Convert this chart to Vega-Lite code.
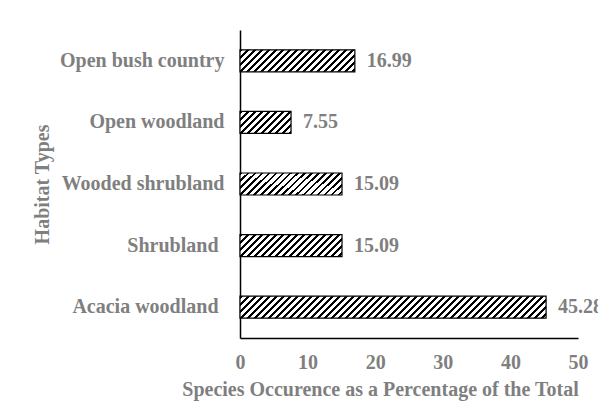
{
  "$schema": "https://vega.github.io/schema/vega-lite/v6.json",
  "width": 338,
  "height": 308,
  "autosize": {"type": "none"},
  "padding": {"left": 240, "top": 30, "right": 20, "bottom": 74},
  "background": "white",
  "config": {"view": {"stroke": null}, "font": "Liberation Serif"},
  "data": {
    "values": [
      {"habitat": "Open bush country", "pct": 16.99},
      {"habitat": "Open woodland", "pct": 7.55},
      {"habitat": "Wooded shrubland", "pct": 15.09},
      {"habitat": "Shrubland", "pct": 15.09},
      {"habitat": "Acacia woodland", "pct": 45.28}
    ]
  },
  "encoding": {
    "y": {
      "field": "habitat",
      "type": "nominal",
      "sort": ["Open bush country", "Open woodland", "Wooded shrubland", "Shrubland", "Acacia woodland"],
      "scale": {"paddingInner": 0, "paddingOuter": 0},
      "axis": {
        "title": "Habitat Types",
        "ticks": false,
        "grid": false,
        "labelPadding": {"condition": {"test": "datum.value == 'Shrubland' || datum.value == 'Acacia woodland'", "value": 22}, "value": 16},
        "domainColor": "#000",
        "domainWidth": 1.5,
        "labelFont": "Liberation Serif",
        "labelFontWeight": "bold",
        "labelFontSize": 20,
        "labelColor": "#7f7f7f",
        "labelLimit": 220,
        "titleFont": "Liberation Serif",
        "titleFontWeight": "bold",
        "titleFontSize": 20,
        "titleColor": "#7f7f7f",
        "titleX": -188,
        "titleY": 154
      }
    },
    "x": {
      "field": "pct",
      "type": "quantitative",
      "scale": {"domain": [0, 50]},
      "axis": {
        "title": "Species Occurence as a Percentage of the Total",
        "values": [0, 10, 20, 30, 40, 50],
        "ticks": false,
        "grid": false,
        "labelFlush": false,
        "labelPadding": 14,
        "domainColor": "#000",
        "domainWidth": 1.5,
        "labelFont": "Liberation Serif",
        "labelFontWeight": "bold",
        "labelFontSize": 20,
        "labelColor": "#7f7f7f",
        "titleFont": "Liberation Serif",
        "titleFontWeight": "bold",
        "titleFontSize": 20,
        "titleColor": "#7f7f7f",
        "titleX": 140,
        "titleY": 41
      }
    }
  },
  "layer": [
    {
      "mark": {"type": "bar", "size": 22, "stroke": "#000", "strokeWidth": 1.2},
      "encoding": {
        "fill": {
          "condition": [
            {"test": "datum.pct > 40", "value": {"gradient": "linear", "x1": 0, "y1": 0, "x2": 1.1376, "y2": 0.08176, "stops": [
              {"offset":0,"color":"#000"},{"offset":0.008571,"color":"#000"},{"offset":0.008571,"color":"#fff"},{"offset":0.02,"color":"#fff"},
              {"offset":0.02,"color":"#000"},{"offset":0.028571,"color":"#000"},{"offset":0.028571,"color":"#fff"},{"offset":0.04,"color":"#fff"},
              {"offset":0.04,"color":"#000"},{"offset":0.048571,"color":"#000"},{"offset":0.048571,"color":"#fff"},{"offset":0.06,"color":"#fff"},
              {"offset":0.06,"color":"#000"},{"offset":0.068571,"color":"#000"},{"offset":0.068571,"color":"#fff"},{"offset":0.08,"color":"#fff"},
              {"offset":0.08,"color":"#000"},{"offset":0.088571,"color":"#000"},{"offset":0.088571,"color":"#fff"},{"offset":0.1,"color":"#fff"},
              {"offset":0.1,"color":"#000"},{"offset":0.108571,"color":"#000"},{"offset":0.108571,"color":"#fff"},{"offset":0.12,"color":"#fff"},
              {"offset":0.12,"color":"#000"},{"offset":0.128571,"color":"#000"},{"offset":0.128571,"color":"#fff"},{"offset":0.14,"color":"#fff"},
              {"offset":0.14,"color":"#000"},{"offset":0.148571,"color":"#000"},{"offset":0.148571,"color":"#fff"},{"offset":0.16,"color":"#fff"},
              {"offset":0.16,"color":"#000"},{"offset":0.168571,"color":"#000"},{"offset":0.168571,"color":"#fff"},{"offset":0.18,"color":"#fff"},
              {"offset":0.18,"color":"#000"},{"offset":0.188571,"color":"#000"},{"offset":0.188571,"color":"#fff"},{"offset":0.2,"color":"#fff"},
              {"offset":0.2,"color":"#000"},{"offset":0.208571,"color":"#000"},{"offset":0.208571,"color":"#fff"},{"offset":0.22,"color":"#fff"},
              {"offset":0.22,"color":"#000"},{"offset":0.228571,"color":"#000"},{"offset":0.228571,"color":"#fff"},{"offset":0.24,"color":"#fff"},
              {"offset":0.24,"color":"#000"},{"offset":0.248571,"color":"#000"},{"offset":0.248571,"color":"#fff"},{"offset":0.26,"color":"#fff"},
              {"offset":0.26,"color":"#000"},{"offset":0.268571,"color":"#000"},{"offset":0.268571,"color":"#fff"},{"offset":0.28,"color":"#fff"},
              {"offset":0.28,"color":"#000"},{"offset":0.288571,"color":"#000"},{"offset":0.288571,"color":"#fff"},{"offset":0.3,"color":"#fff"},
              {"offset":0.3,"color":"#000"},{"offset":0.308571,"color":"#000"},{"offset":0.308571,"color":"#fff"},{"offset":0.32,"color":"#fff"},
              {"offset":0.32,"color":"#000"},{"offset":0.328571,"color":"#000"},{"offset":0.328571,"color":"#fff"},{"offset":0.34,"color":"#fff"},
              {"offset":0.34,"color":"#000"},{"offset":0.348571,"color":"#000"},{"offset":0.348571,"color":"#fff"},{"offset":0.36,"color":"#fff"},
              {"offset":0.36,"color":"#000"},{"offset":0.368571,"color":"#000"},{"offset":0.368571,"color":"#fff"},{"offset":0.38,"color":"#fff"},
              {"offset":0.38,"color":"#000"},{"offset":0.388571,"color":"#000"},{"offset":0.388571,"color":"#fff"},{"offset":0.4,"color":"#fff"},
              {"offset":0.4,"color":"#000"},{"offset":0.408571,"color":"#000"},{"offset":0.408571,"color":"#fff"},{"offset":0.42,"color":"#fff"},
              {"offset":0.42,"color":"#000"},{"offset":0.428571,"color":"#000"},{"offset":0.428571,"color":"#fff"},{"offset":0.44,"color":"#fff"},
              {"offset":0.44,"color":"#000"},{"offset":0.448571,"color":"#000"},{"offset":0.448571,"color":"#fff"},{"offset":0.46,"color":"#fff"},
              {"offset":0.46,"color":"#000"},{"offset":0.468571,"color":"#000"},{"offset":0.468571,"color":"#fff"},{"offset":0.48,"color":"#fff"},
              {"offset":0.48,"color":"#000"},{"offset":0.488571,"color":"#000"},{"offset":0.488571,"color":"#fff"},{"offset":0.5,"color":"#fff"},
              {"offset":0.5,"color":"#000"},{"offset":0.508571,"color":"#000"},{"offset":0.508571,"color":"#fff"},{"offset":0.52,"color":"#fff"},
              {"offset":0.52,"color":"#000"},{"offset":0.528571,"color":"#000"},{"offset":0.528571,"color":"#fff"},{"offset":0.54,"color":"#fff"},
              {"offset":0.54,"color":"#000"},{"offset":0.548571,"color":"#000"},{"offset":0.548571,"color":"#fff"},{"offset":0.56,"color":"#fff"},
              {"offset":0.56,"color":"#000"},{"offset":0.568571,"color":"#000"},{"offset":0.568571,"color":"#fff"},{"offset":0.58,"color":"#fff"},
              {"offset":0.58,"color":"#000"},{"offset":0.588571,"color":"#000"},{"offset":0.588571,"color":"#fff"},{"offset":0.6,"color":"#fff"},
              {"offset":0.6,"color":"#000"},{"offset":0.608571,"color":"#000"},{"offset":0.608571,"color":"#fff"},{"offset":0.62,"color":"#fff"},
              {"offset":0.62,"color":"#000"},{"offset":0.628571,"color":"#000"},{"offset":0.628571,"color":"#fff"},{"offset":0.64,"color":"#fff"},
              {"offset":0.64,"color":"#000"},{"offset":0.648571,"color":"#000"},{"offset":0.648571,"color":"#fff"},{"offset":0.66,"color":"#fff"},
              {"offset":0.66,"color":"#000"},{"offset":0.668571,"color":"#000"},{"offset":0.668571,"color":"#fff"},{"offset":0.68,"color":"#fff"},
              {"offset":0.68,"color":"#000"},{"offset":0.688571,"color":"#000"},{"offset":0.688571,"color":"#fff"},{"offset":0.7,"color":"#fff"},
              {"offset":0.7,"color":"#000"},{"offset":0.708571,"color":"#000"},{"offset":0.708571,"color":"#fff"},{"offset":0.72,"color":"#fff"},
              {"offset":0.72,"color":"#000"},{"offset":0.728571,"color":"#000"},{"offset":0.728571,"color":"#fff"},{"offset":0.74,"color":"#fff"},
              {"offset":0.74,"color":"#000"},{"offset":0.748571,"color":"#000"},{"offset":0.748571,"color":"#fff"},{"offset":0.76,"color":"#fff"},
              {"offset":0.76,"color":"#000"},{"offset":0.768571,"color":"#000"},{"offset":0.768571,"color":"#fff"},{"offset":0.78,"color":"#fff"},
              {"offset":0.78,"color":"#000"},{"offset":0.788571,"color":"#000"},{"offset":0.788571,"color":"#fff"},{"offset":0.8,"color":"#fff"},
              {"offset":0.8,"color":"#000"},{"offset":0.808571,"color":"#000"},{"offset":0.808571,"color":"#fff"},{"offset":0.82,"color":"#fff"},
              {"offset":0.82,"color":"#000"},{"offset":0.828571,"color":"#000"},{"offset":0.828571,"color":"#fff"},{"offset":0.84,"color":"#fff"},
              {"offset":0.84,"color":"#000"},{"offset":0.848571,"color":"#000"},{"offset":0.848571,"color":"#fff"},{"offset":0.86,"color":"#fff"},
              {"offset":0.86,"color":"#000"},{"offset":0.868571,"color":"#000"},{"offset":0.868571,"color":"#fff"},{"offset":0.88,"color":"#fff"},
              {"offset":0.88,"color":"#000"},{"offset":0.888571,"color":"#000"},{"offset":0.888571,"color":"#fff"},{"offset":0.9,"color":"#fff"},
              {"offset":0.9,"color":"#000"},{"offset":0.908571,"color":"#000"},{"offset":0.908571,"color":"#fff"},{"offset":0.92,"color":"#fff"},
              {"offset":0.92,"color":"#000"},{"offset":0.928571,"color":"#000"},{"offset":0.928571,"color":"#fff"},{"offset":0.94,"color":"#fff"}
            ]}},
            {"test": "datum.pct > 16", "value": {"gradient": "linear", "x1": 0, "y1": 0, "x2": 2.9396, "y2": 0.5631, "stops": [
              {"offset":0,"color":"#000"},{"offset":0.008571,"color":"#000"},{"offset":0.008571,"color":"#fff"},{"offset":0.02,"color":"#fff"},
              {"offset":0.02,"color":"#000"},{"offset":0.028571,"color":"#000"},{"offset":0.028571,"color":"#fff"},{"offset":0.04,"color":"#fff"},
              {"offset":0.04,"color":"#000"},{"offset":0.048571,"color":"#000"},{"offset":0.048571,"color":"#fff"},{"offset":0.06,"color":"#fff"},
              {"offset":0.06,"color":"#000"},{"offset":0.068571,"color":"#000"},{"offset":0.068571,"color":"#fff"},{"offset":0.08,"color":"#fff"},
              {"offset":0.08,"color":"#000"},{"offset":0.088571,"color":"#000"},{"offset":0.088571,"color":"#fff"},{"offset":0.1,"color":"#fff"},
              {"offset":0.1,"color":"#000"},{"offset":0.108571,"color":"#000"},{"offset":0.108571,"color":"#fff"},{"offset":0.12,"color":"#fff"},
              {"offset":0.12,"color":"#000"},{"offset":0.128571,"color":"#000"},{"offset":0.128571,"color":"#fff"},{"offset":0.14,"color":"#fff"},
              {"offset":0.14,"color":"#000"},{"offset":0.148571,"color":"#000"},{"offset":0.148571,"color":"#fff"},{"offset":0.16,"color":"#fff"},
              {"offset":0.16,"color":"#000"},{"offset":0.168571,"color":"#000"},{"offset":0.168571,"color":"#fff"},{"offset":0.18,"color":"#fff"},
              {"offset":0.18,"color":"#000"},{"offset":0.188571,"color":"#000"},{"offset":0.188571,"color":"#fff"},{"offset":0.2,"color":"#fff"},
              {"offset":0.2,"color":"#000"},{"offset":0.208571,"color":"#000"},{"offset":0.208571,"color":"#fff"},{"offset":0.22,"color":"#fff"},
              {"offset":0.22,"color":"#000"},{"offset":0.228571,"color":"#000"},{"offset":0.228571,"color":"#fff"},{"offset":0.24,"color":"#fff"},
              {"offset":0.24,"color":"#000"},{"offset":0.248571,"color":"#000"},{"offset":0.248571,"color":"#fff"},{"offset":0.26,"color":"#fff"},
              {"offset":0.26,"color":"#000"},{"offset":0.268571,"color":"#000"},{"offset":0.268571,"color":"#fff"},{"offset":0.28,"color":"#fff"},
              {"offset":0.28,"color":"#000"},{"offset":0.288571,"color":"#000"},{"offset":0.288571,"color":"#fff"},{"offset":0.3,"color":"#fff"},
              {"offset":0.3,"color":"#000"},{"offset":0.308571,"color":"#000"},{"offset":0.308571,"color":"#fff"},{"offset":0.32,"color":"#fff"},
              {"offset":0.32,"color":"#000"},{"offset":0.328571,"color":"#000"},{"offset":0.328571,"color":"#fff"},{"offset":0.34,"color":"#fff"},
              {"offset":0.34,"color":"#000"},{"offset":0.348571,"color":"#000"},{"offset":0.348571,"color":"#fff"},{"offset":0.36,"color":"#fff"},
              {"offset":0.36,"color":"#000"},{"offset":0.368571,"color":"#000"},{"offset":0.368571,"color":"#fff"},{"offset":0.38,"color":"#fff"},
              {"offset":0.38,"color":"#000"},{"offset":0.388571,"color":"#000"},{"offset":0.388571,"color":"#fff"},{"offset":0.4,"color":"#fff"}
            ]}},
            {"test": "datum.pct > 10", "value": {"gradient": "linear", "x1": 0, "y1": 0, "x2": 3.2786, "y2": 0.7071, "stops": [
              {"offset":0,"color":"#000"},{"offset":0.008571,"color":"#000"},{"offset":0.008571,"color":"#fff"},{"offset":0.02,"color":"#fff"},
              {"offset":0.02,"color":"#000"},{"offset":0.028571,"color":"#000"},{"offset":0.028571,"color":"#fff"},{"offset":0.04,"color":"#fff"},
              {"offset":0.04,"color":"#000"},{"offset":0.048571,"color":"#000"},{"offset":0.048571,"color":"#fff"},{"offset":0.06,"color":"#fff"},
              {"offset":0.06,"color":"#000"},{"offset":0.068571,"color":"#000"},{"offset":0.068571,"color":"#fff"},{"offset":0.08,"color":"#fff"},
              {"offset":0.08,"color":"#000"},{"offset":0.088571,"color":"#000"},{"offset":0.088571,"color":"#fff"},{"offset":0.1,"color":"#fff"},
              {"offset":0.1,"color":"#000"},{"offset":0.108571,"color":"#000"},{"offset":0.108571,"color":"#fff"},{"offset":0.12,"color":"#fff"},
              {"offset":0.12,"color":"#000"},{"offset":0.128571,"color":"#000"},{"offset":0.128571,"color":"#fff"},{"offset":0.14,"color":"#fff"},
              {"offset":0.14,"color":"#000"},{"offset":0.148571,"color":"#000"},{"offset":0.148571,"color":"#fff"},{"offset":0.16,"color":"#fff"},
              {"offset":0.16,"color":"#000"},{"offset":0.168571,"color":"#000"},{"offset":0.168571,"color":"#fff"},{"offset":0.18,"color":"#fff"},
              {"offset":0.18,"color":"#000"},{"offset":0.188571,"color":"#000"},{"offset":0.188571,"color":"#fff"},{"offset":0.2,"color":"#fff"},
              {"offset":0.2,"color":"#000"},{"offset":0.208571,"color":"#000"},{"offset":0.208571,"color":"#fff"},{"offset":0.22,"color":"#fff"},
              {"offset":0.22,"color":"#000"},{"offset":0.228571,"color":"#000"},{"offset":0.228571,"color":"#fff"},{"offset":0.24,"color":"#fff"},
              {"offset":0.24,"color":"#000"},{"offset":0.248571,"color":"#000"},{"offset":0.248571,"color":"#fff"},{"offset":0.26,"color":"#fff"},
              {"offset":0.26,"color":"#000"},{"offset":0.268571,"color":"#000"},{"offset":0.268571,"color":"#fff"},{"offset":0.28,"color":"#fff"},
              {"offset":0.28,"color":"#000"},{"offset":0.288571,"color":"#000"},{"offset":0.288571,"color":"#fff"},{"offset":0.3,"color":"#fff"},
              {"offset":0.3,"color":"#000"},{"offset":0.308571,"color":"#000"},{"offset":0.308571,"color":"#fff"},{"offset":0.32,"color":"#fff"},
              {"offset":0.32,"color":"#000"},{"offset":0.328571,"color":"#000"},{"offset":0.328571,"color":"#fff"},{"offset":0.34,"color":"#fff"},
              {"offset":0.34,"color":"#000"},{"offset":0.348571,"color":"#000"},{"offset":0.348571,"color":"#fff"},{"offset":0.36,"color":"#fff"}
            ]}}
          ],
          "value": {"gradient": "linear", "x1": 0, "y1": 0, "x2": 5.7829, "y2": 2.4926, "stops": [
            {"offset":0,"color":"#000"},{"offset":0.008571,"color":"#000"},{"offset":0.008571,"color":"#fff"},{"offset":0.02,"color":"#fff"},
            {"offset":0.02,"color":"#000"},{"offset":0.028571,"color":"#000"},{"offset":0.028571,"color":"#fff"},{"offset":0.04,"color":"#fff"},
            {"offset":0.04,"color":"#000"},{"offset":0.048571,"color":"#000"},{"offset":0.048571,"color":"#fff"},{"offset":0.06,"color":"#fff"},
            {"offset":0.06,"color":"#000"},{"offset":0.068571,"color":"#000"},{"offset":0.068571,"color":"#fff"},{"offset":0.08,"color":"#fff"},
            {"offset":0.08,"color":"#000"},{"offset":0.088571,"color":"#000"},{"offset":0.088571,"color":"#fff"},{"offset":0.1,"color":"#fff"},
            {"offset":0.1,"color":"#000"},{"offset":0.108571,"color":"#000"},{"offset":0.108571,"color":"#fff"},{"offset":0.12,"color":"#fff"},
            {"offset":0.12,"color":"#000"},{"offset":0.128571,"color":"#000"},{"offset":0.128571,"color":"#fff"},{"offset":0.14,"color":"#fff"},
            {"offset":0.14,"color":"#000"},{"offset":0.148571,"color":"#000"},{"offset":0.148571,"color":"#fff"},{"offset":0.16,"color":"#fff"},
            {"offset":0.16,"color":"#000"},{"offset":0.168571,"color":"#000"},{"offset":0.168571,"color":"#fff"},{"offset":0.18,"color":"#fff"},
            {"offset":0.18,"color":"#000"},{"offset":0.188571,"color":"#000"},{"offset":0.188571,"color":"#fff"},{"offset":0.2,"color":"#fff"},
            {"offset":0.2,"color":"#000"},{"offset":0.208571,"color":"#000"},{"offset":0.208571,"color":"#fff"},{"offset":0.22,"color":"#fff"}
          ]}
        }
      }
    },
    {
      "mark": {"type": "text", "align": "left", "baseline": "middle", "dx": 12, "font": "Liberation Serif", "fontWeight": "bold", "fontSize": 20, "fill": "#7f7f7f"},
      "encoding": {"text": {"field": "pct", "type": "quantitative", "format": ".2f"}}
    }
  ]
}
